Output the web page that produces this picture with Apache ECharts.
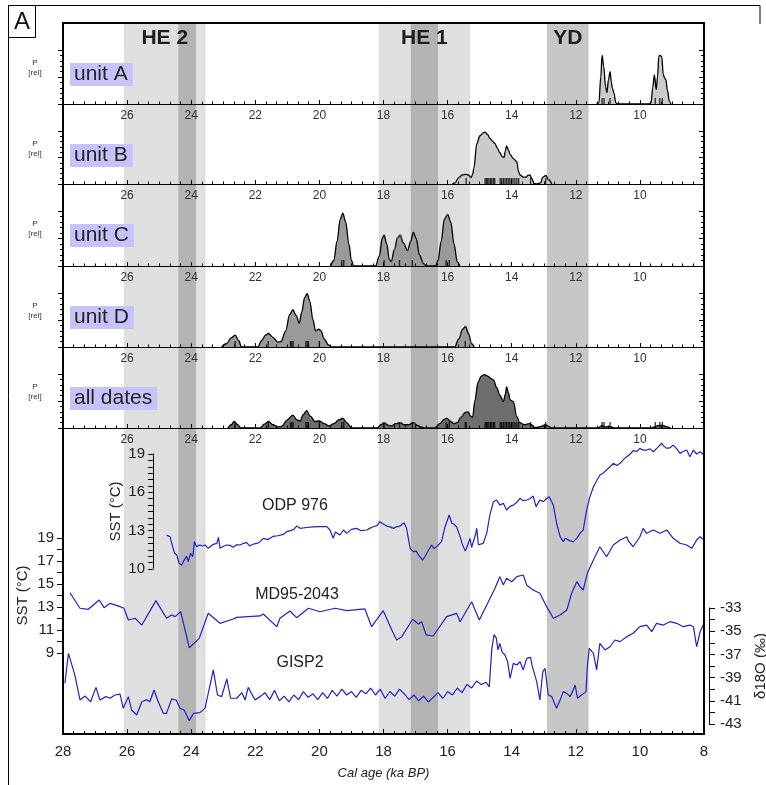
<!DOCTYPE html>
<html><head><meta charset="utf-8">
<script src="https://cdn.jsdelivr.net/npm/echarts@6/dist/echarts.min.js"></script>
<style>html,body{margin:0;padding:0;background:#fff}#c{width:766px;height:785px}</style>
</head><body><div id="c"></div>
<script>
// ---------------- DATA ----------------
const xTickLabels = [28,26,24,22,20,18,16,14,12,10,8];
const lightBands = [[26.1,23.55,'HE 2'],[18.15,15.3,'HE 1']];
const ydBand = [12.9,11.6,'YD'];
const darkBands = [[24.4,23.85],[17.15,16.3]];
const unitNames = ['unit A','unit B','unit C','unit D','all dates'];

const unitA = [[11.35,0],[11.28,0.02],[11.22,0.5],[11.18,0.9],[11.13,0.7],[11.07,0.32],[11.03,0.21],[10.98,0.45],[10.93,0.6],[10.89,0.4],[10.86,0.3],[10.81,0.2],[10.75,0.02],[10.7,0],[9.7,0],[9.65,0.03],[9.6,0.3],[9.55,0.54],[9.49,0.27],[9.45,0.5],[9.41,0.88],[9.37,0.9],[9.32,0.88],[9.27,0.55],[9.23,0.48],[9.19,0.45],[9.14,0.25],[9.08,0.05],[9.03,0]];
const unitB = [[15.85,0],[15.77,0.02],[15.65,0.12],[15.55,0.17],[15.45,0.18],[15.35,0.17],[15.27,0.12],[15.22,0.18],[15.18,0.3],[15.09,0.76],[14.99,0.91],[14.88,0.97],[14.83,0.98],[14.75,0.93],[14.68,0.86],[14.6,0.81],[14.52,0.76],[14.45,0.68],[14.37,0.59],[14.3,0.52],[14.24,0.5],[14.2,0.62],[14.16,0.72],[14.1,0.64],[14.05,0.56],[13.95,0.48],[13.84,0.42],[13.79,0.24],[13.74,0.17],[13.64,0.13],[13.55,0.13],[13.5,0.16],[13.43,0.17],[13.37,0.1],[13.3,0.01],[13.22,0],[13.1,0.02],[13.03,0.13],[12.93,0.16],[12.85,0.08],[12.75,0]];
const unitC = [[19.65,0],[19.55,0.1],[19.45,0.45],[19.35,0.85],[19.27,0.96],[19.18,0.8],[19.08,0.4],[19.0,0.1],[18.93,0],[18.25,0],[18.13,0.18],[18.04,0.5],[17.98,0.56],[17.9,0.4],[17.82,0.12],[17.76,0.08],[17.66,0.3],[17.56,0.52],[17.48,0.56],[17.38,0.42],[17.25,0.28],[17.15,0.45],[17.07,0.61],[16.98,0.5],[16.88,0.2],[16.75,0.04],[16.65,0],[16.38,0],[16.3,0.1],[16.2,0.45],[16.1,0.85],[16.0,0.94],[15.9,0.8],[15.8,0.4],[15.7,0.08],[15.62,0]];
const unitD = [[23.05,0],[22.9,0.06],[22.75,0.17],[22.63,0.22],[22.52,0.12],[22.43,0],[21.92,0],[21.8,0.12],[21.68,0.22],[21.59,0.25],[21.45,0.18],[21.3,0.09],[21.2,0.1],[21.05,0.3],[20.93,0.6],[20.83,0.69],[20.72,0.58],[20.63,0.44],[20.55,0.65],[20.46,0.92],[20.38,0.99],[20.3,0.85],[20.2,0.5],[20.12,0.3],[20.02,0.33],[19.95,0.3],[19.85,0.15],[19.72,0.04],[19.62,0],[15.78,0],[15.65,0.15],[15.53,0.33],[15.44,0.38],[15.35,0.25],[15.25,0.06],[15.17,0]];
const allDates = [[22.85,0],[22.75,0.06],[22.66,0.12],[22.55,0.06],[22.45,0],[21.85,0],[21.72,0.07],[21.59,0.12],[21.45,0.06],[21.3,0.02],[21.18,0.03],[21.0,0.15],[20.83,0.24],[20.7,0.15],[20.6,0.13],[20.5,0.25],[20.4,0.32],[20.28,0.22],[20.14,0.12],[20.0,0.13],[19.85,0.08],[19.7,0.04],[19.55,0.08],[19.4,0.15],[19.27,0.18],[19.15,0.1],[19.0,0.01],[18.95,0],[18.2,0],[18.08,0.06],[17.98,0.1],[17.85,0.05],[17.75,0.04],[17.62,0.08],[17.48,0.1],[17.35,0.06],[17.22,0.06],[17.07,0.1],[16.95,0.05],[16.8,0.01],[16.7,0],[16.4,0],[16.25,0.08],[16.1,0.16],[16.03,0.18],[15.9,0.12],[15.8,0.08],[15.7,0.1],[15.58,0.2],[15.45,0.29],[15.36,0.3],[15.28,0.22],[15.22,0.2],[15.15,0.5],[15.05,0.85],[14.95,0.96],[14.85,0.99],[14.75,0.96],[14.65,0.92],[14.57,0.89],[14.47,0.75],[14.37,0.61],[14.26,0.49],[14.2,0.62],[14.16,0.76],[14.1,0.65],[14.05,0.52],[13.95,0.49],[13.84,0.21],[13.75,0.1],[13.6,0.06],[13.45,0.08],[13.38,0.06],[13.3,0.01],[13.2,0.01],[13.08,0.03],[12.95,0.06],[12.85,0.03],[12.75,0],[11.3,0],[11.18,0.05],[11.1,0.02],[10.95,0.03],[10.8,0],[9.65,0],[9.55,0.02],[9.4,0.05],[9.3,0.05],[9.15,0.02],[9.05,0]];

const rugA = [11.18,11.12,10.93,9.52,9.38,9.3];
const rugB = [15.42,14.83,14.79,14.75,14.71,14.66,14.62,14.57,14.53,14.36,14.31,14.26,14.21,14.16,14.11,14.06,14.01,13.96,13.9,13.84,13.78,13.41,12.94];
const rugC = [19.3,19.24,17.98,17.5,17.1,16.05,15.95];
const rugD = [22.63,21.6,20.9,20.86,20.82,20.42,20.38,20.34,20.0,15.45];

const odp976 = [[24.77,12.66],[24.66,12.53],[24.58,11.75],[24.52,11.23],[24.45,11.1],[24.38,10.45],[24.3,10.3],[24.22,10.7],[24.14,11.0],[24.09,10.57],[24.02,11.23],[23.95,10.96],[23.9,12.14],[23.83,11.75],[23.73,11.88],[23.65,11.8],[23.57,11.88],[23.47,11.62],[23.41,11.6],[23.31,11.93],[23.2,12.0],[23.15,12.48],[23.1,11.62],[22.98,11.8],[22.89,11.88],[22.79,11.85],[22.69,11.7],[22.58,11.9],[22.48,11.88],[22.38,12.0],[22.27,12.06],[22.17,11.8],[22.06,11.95],[21.95,12.0],[21.85,12.14],[21.75,12.4],[21.6,12.3],[21.45,12.55],[21.3,12.6],[21.12,12.71],[21.02,12.92],[20.9,13.0],[20.8,13.1],[20.71,13.36],[20.6,13.18],[20.4,13.25],[20.2,13.3],[20.0,13.32],[19.77,13.31],[19.67,13.05],[19.57,12.4],[19.5,12.9],[19.46,13.05],[19.36,12.66],[19.25,13.05],[19.15,12.79],[19.0,13.1],[18.84,13.18],[18.7,13.0],[18.52,13.05],[18.42,13.2],[18.32,13.31],[18.2,13.4],[18.11,13.7],[18.0,13.5],[17.9,13.36],[17.8,13.3],[17.69,13.18],[17.6,13.3],[17.49,13.36],[17.36,13.62],[17.28,13.18],[17.17,11.62],[17.07,11.36],[16.98,11.4],[16.91,11.1],[16.85,11.0],[16.78,10.7],[16.7,11.0],[16.65,11.23],[16.5,11.88],[16.42,11.6],[16.34,11.75],[16.19,12.14],[16.08,13.31],[15.95,14.23],[15.87,13.58],[15.8,13.5],[15.72,13.31],[15.61,12.53],[15.55,12.0],[15.51,12.14],[15.45,11.4],[15.41,11.62],[15.3,12.4],[15.25,11.7],[15.2,11.75],[15.14,12.6],[15.09,13.18],[15.04,11.9],[14.99,11.88],[14.89,12.0],[14.78,12.79],[14.68,14.23],[14.57,15.27],[14.47,15.4],[14.37,15.0],[14.26,15.14],[14.16,14.62],[14.05,14.9],[13.95,15.0],[13.85,15.2],[13.74,15.53],[13.65,15.35],[13.53,15.4],[13.43,15.5],[13.33,15.71],[13.24,14.88],[13.12,15.4],[13.01,15.27],[12.92,15.5],[12.83,15.66],[12.76,15.3],[12.7,15.0],[12.6,13.58],[12.49,12.53],[12.39,12.14],[12.33,12.4],[12.28,12.27],[12.18,12.2],[12.08,12.14],[11.97,12.4],[11.87,12.79],[11.77,13.05],[11.66,14.62],[11.56,15.66],[11.45,16.44],[11.35,16.9],[11.25,17.36],[11.15,17.5],[11.04,17.75],[10.93,18.0],[10.83,18.27],[10.72,18.1],[10.62,18.27],[10.5,18.6],[10.41,18.79],[10.3,19.0],[10.21,19.26],[10.1,19.2],[10.0,19.44],[9.9,19.3],[9.79,19.31],[9.68,19.4],[9.58,19.18],[9.45,19.5],[9.32,19.84],[9.25,19.6],[9.16,19.44],[9.05,19.5],[8.96,19.7],[8.85,19.4],[8.75,19.05],[8.65,19.2],[8.54,19.31],[8.44,18.79],[8.33,19.31],[8.23,19.0],[8.12,19.18],[8.0,18.92]];

const md952043 = [[27.78,14.24],[27.47,12.89],[27.21,12.8],[26.87,13.61],[26.72,12.94],[26.53,13.32],[26.22,13.03],[26.1,12.89],[25.96,11.87],[25.75,12.02],[25.54,11.43],[25.1,13.55],[24.77,12.02],[24.61,12.3],[24.5,12.16],[24.33,12.59],[24.06,9.46],[23.75,10.27],[23.47,12.45],[23.1,11.58],[22.69,11.96],[22.58,12.1],[21.85,12.22],[21.75,12.39],[21.33,11.29],[21.23,12.02],[20.92,12.65],[20.71,12.07],[20.34,12.89],[19.98,12.59],[19.51,12.89],[19.15,12.68],[18.58,12.83],[18.37,11.29],[18.01,12.68],[17.74,11.0],[17.59,10.13],[17.43,10.42],[17.09,11.93],[16.91,11.52],[16.81,11.72],[16.67,10.57],[16.45,10.48],[16.03,12.16],[15.72,12.45],[15.61,11.72],[15.25,13.46],[15.01,11.87],[14.52,14.63],[14.37,15.64],[14.26,14.91],[14.16,15.5],[14.0,15.2],[13.84,15.64],[13.64,15.78],[13.53,14.9],[13.33,14.48],[13.12,14.19],[12.91,13.03],[12.7,12.02],[12.49,12.3],[12.28,12.74],[12.13,14.19],[11.97,15.2],[11.87,14.77],[11.77,14.48],[11.64,15.93],[11.45,17.09],[11.25,18.24],[11.04,17.37],[10.83,18.39],[10.62,18.83],[10.41,19.11],[10.35,18.7],[10.21,18.24],[10.0,19.11],[9.9,19.84],[9.79,19.41],[9.58,19.7],[9.37,19.41],[9.16,19.7],[8.96,18.97],[8.75,18.54],[8.54,18.39],[8.38,18.1],[8.23,18.83],[8.12,19.11],[8.0,18.83]];

const gisp2 = [[27.94,-39.49],[27.83,-36.91],[27.63,-38.78],[27.47,-40.93],[27.31,-40.59],[27.14,-41.08],[26.97,-39.84],[26.85,-40.93],[26.66,-40.64],[26.53,-40.78],[26.38,-40.5],[26.22,-40.43],[26.12,-41.65],[25.96,-40.64],[25.86,-41.79],[25.7,-42.22],[25.54,-41.08],[25.39,-40.9],[25.29,-41.08],[25.16,-40.07],[25.03,-41.08],[24.87,-42.08],[24.77,-42.08],[24.61,-40.84],[24.47,-40.93],[24.35,-41.65],[24.22,-41.79],[24.06,-42.71],[23.93,-42.08],[23.73,-42.02],[23.57,-41.65],[23.31,-38.34],[23.18,-40.5],[23.05,-40.64],[22.89,-39.12],[22.77,-40.78],[22.58,-40.78],[22.42,-40.3],[22.32,-40.93],[22.22,-39.84],[22.01,-40.93],[21.85,-40.64],[21.7,-40.3],[21.55,-40.9],[21.4,-40.1],[21.25,-41.0],[21.1,-40.6],[20.95,-41.1],[20.8,-40.5],[20.65,-40.9],[20.5,-40.2],[20.35,-40.7],[20.2,-40.4],[20.05,-40.9],[19.9,-40.3],[19.75,-40.8],[19.6,-40.1],[19.45,-40.6],[19.3,-40.0],[19.15,-40.5],[19.0,-40.2],[18.85,-40.7],[18.7,-40.1],[18.55,-40.4],[18.4,-39.9],[18.25,-40.5],[18.1,-40.0],[17.95,-40.8],[17.8,-40.2],[17.65,-40.6],[17.5,-40.0],[17.35,-40.4],[17.2,-40.9],[17.05,-40.5],[16.9,-41.0],[16.75,-40.6],[16.6,-41.1],[16.45,-40.7],[16.3,-40.3],[16.15,-40.8],[16.0,-40.2],[15.85,-40.5],[15.7,-39.9],[15.55,-40.3],[15.4,-39.6],[15.25,-39.9],[15.1,-39.3],[14.95,-39.6],[14.8,-39.4],[14.7,-39.8],[14.62,-36.5],[14.55,-35.3],[14.48,-35.6],[14.43,-36.6],[14.37,-36.05],[14.3,-36.8],[14.21,-37.05],[14.13,-37.6],[14.05,-39.06],[13.95,-37.77],[13.84,-37.91],[13.74,-37.63],[13.64,-38.34],[13.53,-37.34],[13.41,-37.26],[13.37,-37.9],[13.33,-37.77],[13.22,-39.35],[13.12,-40.93],[13.03,-38.49],[12.96,-38.2],[12.86,-40.5],[12.75,-40.64],[12.6,-41.65],[12.49,-40.93],[12.39,-40.21],[12.28,-40.36],[12.18,-40.64],[12.08,-40.07],[12.02,-39.64],[11.95,-40.78],[11.82,-40.5],[11.68,-40.21],[11.64,-38.06],[11.58,-36.48],[11.45,-36.91],[11.35,-38.34],[11.25,-36.05],[11.09,-36.62],[10.93,-36.34],[10.78,-35.76],[10.62,-35.9],[10.41,-35.47],[10.21,-35.18],[10.0,-34.61],[9.79,-34.47],[9.63,-35.04],[9.48,-34.32],[9.27,-34.47],[9.06,-34.18],[8.85,-34.32],[8.65,-34.61],[8.44,-34.47],[8.33,-34.61],[8.23,-36.34],[8.12,-35.04],[8.0,-34.32]];

// ---------------- LAYOUT ----------------
const FONT = '"Liberation Sans", Arial, Helvetica, sans-serif';
const L = 63, RT = 766 - 704, PLOT_TOP = 23, PLOT_BOT = 734;
const edges = [23,104,184,266,347,428];
const TICK_OFF = 27;
const BLUE = '#2222c8';
const AXZ = 6;
const fills = ['#cbcbcb','#cbcbcb','#9a9a9a','#9a9a9a','#6e6e6e'];
const units = [unitA, unitB, unitC, unitD, allDates];
const rugs = [rugA, rugB, rugC, rugD, [].concat(rugA, rugB, rugC, rugD)];

const grids = [], xAxes = [], yAxes = [], series = [];
function addGrid(box){ grids.push(Object.assign({left:L, right:RT, containLabel:false, outerBoundsMode:'none'}, box)); return grids.length - 1; }
function hiddenX(gi){ xAxes.push({type:'value', gridIndex:gi, min:8, max:28, inverse:true, show:false}); return xAxes.length - 1; }
function addY(o){ yAxes.push(Object.assign({type:'value', z:AXZ, nameMoveOverlap:false, splitLine:{show:false}}, o)); return yAxes.length - 1; }
const topLabelFmt = v => (v === 8 || v === 28) ? '' : String(v);
function dividerX(gi, first){
  xAxes.push({type:'value', gridIndex:gi, min:8, max:28, inverse:true, interval:2, position:'top', z:AXZ,
    axisLine:{show:true, onZero:false, lineStyle:{color:'#000', width: first ? 2 : 1.2}},
    axisTick:{show:!first, length:4, lineStyle:{color:'#000', width:1}},
    minorTick:{show:!first, splitNumber:6, length:2.5, lineStyle:{color:'#000', width:1}},
    axisLabel:{show:!first, inside:true, margin:6, fontSize:12, color:'#333', fontFamily:FONT, formatter: topLabelFmt, showMinLabel:true, showMaxLabel:true},
    splitLine:{show:false}});
  return xAxes.length - 1;
}

// band grid
const gBand = addGrid({top:PLOT_TOP, height:PLOT_BOT - PLOT_TOP});
const xBand = hiddenX(gBand);
const yBand = addY({gridIndex:gBand, min:0, max:1, show:false});
const bandAreas = [];
lightBands.forEach(b => bandAreas.push([{xAxis:b[0], itemStyle:{color:'#dfdfdf'}}, {xAxis:b[1]}]));
bandAreas.push([{xAxis:ydBand[0], itemStyle:{color:'#c6c6c6'}}, {xAxis:ydBand[1]}]);
darkBands.forEach(b => bandAreas.push([{xAxis:b[0], itemStyle:{color:'#b3b3b3'}}, {xAxis:b[1]}]));
series.push({type:'line', xAxisIndex:xBand, yAxisIndex:yBand, data:[[28,-5]], showSymbol:false, lineStyle:{opacity:0}, z:-2, silent:true,
  markArea:{silent:true, z:-2, data:bandAreas}});
const labelAreas = lightBands.concat([ydBand]).map(b => [{name:b[2], xAxis:b[0]}, {xAxis:b[1]}]);
series.push({type:'line', xAxisIndex:xBand, yAxisIndex:yBand, data:[[28,-5]], showSymbol:false, lineStyle:{opacity:0}, z:-1, silent:true,
  markArea:{silent:true, z:-1, itemStyle:{color:'rgba(0,0,0,0)'},
    label:{show:true, position:'insideTop', distance:5, fontSize:21, fontWeight:'bold', color:'#1e1e1e', fontFamily:FONT},
    data:labelAreas}});

// density panels
for (let i = 0; i < 5; i++){
  const top = edges[i], h = edges[i+1] - edges[i];
  const gd = addGrid({top:top, height:h});
  const xd = dividerX(gd, i === 0);
  const ymax = h / (h - TICK_OFF);
  const yd = addY({gridIndex:gd, min:0, max:ymax, position:'left',
    axisLine:{show:true, onZero:false, lineStyle:{color:'#000', width:2}}, axisTick:{show:false}, axisLabel:{show:false}});
  addY({gridIndex:gd, min:0, max:ymax, position:'right',
    axisLine:{show:true, onZero:false, lineStyle:{color:'#000', width:2}}, axisTick:{show:false}, axisLabel:{show:false}});
  const gt = addGrid({top:top + TICK_OFF, height:h - TICK_OFF});
  hiddenX(gt);
  [false, true].forEach(inside => addY({gridIndex:gt, min:0, max:1, interval:0.5, position: inside ? 'right' : 'left',
    axisLine:{show:false}, axisTick:{show:true, inside:inside, length:5, lineStyle:{color:'#000'}},
    minorTick:{show:true, splitNumber:5, length:3, lineStyle:{color:'#000'}}, axisLabel:{show:false}}));
  series.push({type:'line', xAxisIndex:xd, yAxisIndex:yd, data:units[i], smooth:0.35, smoothMonotone:'x', symbol:'none',
    lineStyle:{color:'#000', width:1.3}, areaStyle:{color:fills[i], opacity:1}, z:3, silent:true});
  series.push({type:'scatter', xAxisIndex:xd, yAxisIndex:yd, data:rugs[i].map(a => [a, 0]), symbol:'rect',
    symbolSize:[1.3, 6], symbolOffset:[0, -3], itemStyle:{color:'#000'}, z:4, silent:true});
}

// bottom panel frame
const gBot = addGrid({top:edges[5], height:PLOT_BOT - edges[5]});
dividerX(gBot, false);
xAxes.push({type:'value', gridIndex:gBot, min:8, max:28, inverse:true, interval:2, position:'bottom', z:AXZ,
  axisLine:{show:true, onZero:false, lineStyle:{color:'#000', width:2}},
  axisTick:{show:true, inside:true, length:5, lineStyle:{color:'#000'}},
  minorTick:{show:true, splitNumber:6, length:3, lineStyle:{color:'#000'}},
  axisLabel:{fontSize:15, margin:10, color:'#222', fontFamily:FONT, showMinLabel:true, showMaxLabel:true},
  name:'Cal age (ka BP)', nameLocation:'middle', nameGap:33,
  nameTextStyle:{fontSize:13, fontStyle:'italic', color:'#222', fontFamily:FONT},
  splitLine:{show:false}});
['left','right'].forEach(p => addY({gridIndex:gBot, min:0, max:1, position:p,
  axisLine:{show:true, onZero:false, lineStyle:{color:'#000', width:2}}, axisTick:{show:false}, axisLabel:{show:false}}));

// ODP 976 inner axis
const gOdp = addGrid({top:454, height:115});
const xOdp = hiddenX(gOdp);
const yOdp = addY({gridIndex:gOdp, position:'left', offset:-90, min:10, max:19, interval:0.5,
  axisLine:{show:true, onZero:false, lineStyle:{color:'#000', width:1}},
  axisTick:{show:true, length:5, lineStyle:{color:'#000'}},
  axisLabel:{fontSize:15, color:'#222', margin:8, fontFamily:FONT, showMinLabel:true, showMaxLabel:true,
    formatter: v => (Math.abs((v - 10) % 3) < 1e-6) ? String(v) : ''},
  name:'SST (°C)', nameLocation:'middle', nameRotate:90, nameGap:30,
  nameTextStyle:{fontSize:15, color:'#222', fontFamily:FONT}});
// MD95-2043 axis
const gMd = addGrid({top:538, height:115});
const xMd = hiddenX(gMd);
const yMd = addY({gridIndex:gMd, position:'left', min:9, max:19, interval:1,
  axisLine:{show:true, onZero:false, lineStyle:{color:'#000', width:1}},
  axisTick:{show:true, length:6, lineStyle:{color:'#000'}},
  axisLabel:{fontSize:15, color:'#222', margin:9, fontFamily:FONT, showMinLabel:true, showMaxLabel:true,
    formatter: v => (v % 2 !== 0) ? String(v) : ''},
  name:'SST (°C)', nameLocation:'middle', nameRotate:90, nameGap:33,
  nameTextStyle:{fontSize:15, color:'#222', fontFamily:FONT}});
// GISP2 axis
const gGi = addGrid({top:608, height:116});
const xGi = hiddenX(gGi);
const yGi = addY({gridIndex:gGi, position:'right', offset:5, min:-43, max:-33, interval:1,
  axisLine:{show:true, onZero:false, lineStyle:{color:'#000', width:1}},
  axisTick:{show:true, length:6, lineStyle:{color:'#000'}},
  axisLabel:{fontSize:15, color:'#222', margin:11, fontFamily:FONT, showMinLabel:true, showMaxLabel:true,
    formatter: v => (v % 2 !== 0) ? String(v) : ''},
  name:'δ18O (‰)', nameLocation:'middle', nameRotate:90, nameGap:44,
  nameTextStyle:{fontSize:15, color:'#222', fontFamily:FONT}});

[[odp976, xOdp, yOdp], [md952043, xMd, yMd], [gisp2, xGi, yGi]].forEach(s => series.push({
  type:'line', xAxisIndex:s[1], yAxisIndex:s[2], data:s[0], symbol:'none', clip:false,
  lineStyle:{color:BLUE, width:1.2}, z:5, silent:true}));

// ---------------- GRAPHIC (text & frame) ----------------
const graphic = [
  {type:'line', shape:{x1:8.5, y1:5.5, x2:8.5, y2:785}, style:{stroke:'#000', lineWidth:1}},
  {type:'line', shape:{x1:8.5, y1:5.5, x2:760, y2:5.5}, style:{stroke:'#000', lineWidth:1}},
  {type:'line', shape:{x1:760, y1:5.5, x2:760, y2:24}, style:{stroke:'#000', lineWidth:1}},
  {type:'rect', shape:{x:8.5, y:5.5, width:27, height:32}, style:{fill:'#fff', stroke:'#000', lineWidth:1}},
  {type:'text', x:22, y:22, style:{text:'A', font:'24px ' + FONT, fill:'#111', align:'center', verticalAlign:'middle'}},
  {type:'text', x:295, y:506, style:{text:'ODP 976', font:'16px ' + FONT, fill:'#222', align:'center', verticalAlign:'middle'}},
  {type:'text', x:297, y:595, style:{text:'MD95-2043', font:'16px ' + FONT, fill:'#222', align:'center', verticalAlign:'middle'}},
  {type:'text', x:300, y:663, style:{text:'GISP2', font:'16px ' + FONT, fill:'#222', align:'center', verticalAlign:'middle'}}
];
for (let i = 0; i < 5; i++){
  graphic.push({type:'text', x:70, y:edges[i] + 40, z:10, style:{text:unitNames[i], font:'21px ' + FONT, fill:'#222',
    backgroundColor:'#c6c3fa', padding:[1,5,1,4], lineHeight:21}});
  graphic.push({type:'text', x:35, y:edges[i] + 45, style:{text:'P\n[rel]', font:'8px ' + FONT, fill:'#333',
    align:'center', verticalAlign:'middle', lineHeight:10}});
}

const chart = echarts.init(document.getElementById('c'), null, {renderer:'canvas'});
chart.setOption({animation:false, backgroundColor:'#fff', grid:grids, xAxis:xAxes, yAxis:yAxes, series:series, graphic:graphic});
</script>
</body></html>
